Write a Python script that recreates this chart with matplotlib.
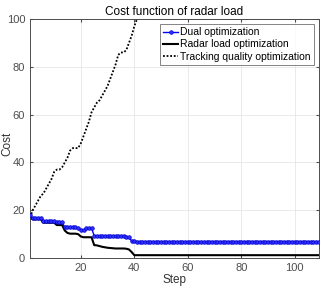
import numpy as np
import matplotlib.pyplot as plt

plt.rcParams['font.family'] = ['Liberation Sans', 'DejaVu Sans']

# Cost per step (steps 1..109)
tracking_head = [17, 20, 22, 24, 26, 27, 29, 31, 33, 36,
                 37, 37, 38, 40, 42, 45, 46, 46, 46, 48,
                 51, 54, 57, 61, 63, 65, 66, 68, 70, 72,
                 75, 78, 81, 85, 86, 86, 87, 90, 93, 97, 100]
dual_head = [18, 16.6, 16.6, 16.6, 16.6, 15.6, 15.6, 15.6, 15.6, 15.6,
             15.0, 15.0, 15.0, 12.8, 12.8, 12.8, 12.8, 12.8, 12.6, 11.7,
             11.7, 12.4, 12.5, 12.5, 9.3, 9.2, 9.2, 9.2, 9.2, 9.2,
             9.2, 9.2, 9.2, 9.2, 9.2, 9.2, 9.0, 8.6, 7.2, 7.0]
radar_head = [17, 16.2, 16.2, 16.2, 16.2, 14.8, 14.8, 14.8, 14.8, 14.8,
              13.8, 13.8, 13.8, 11.5, 10.5, 10.2, 10.2, 10.2, 10.0, 9.0,
              8.7, 8.7, 8.7, 8.7, 5.4, 5.3, 5.0, 4.7, 4.5, 4.3,
              4.2, 4.1, 4.0, 4.0, 4.0, 4.0, 3.9, 3.6, 2.5, 1.2]

n_steps = 109
steps = np.arange(1, n_steps + 1)
tracking = tracking_head + [100] * (n_steps - len(tracking_head))
dual = dual_head + [6.9] * (n_steps - len(dual_head))
radar = radar_head + [1.2] * (n_steps - len(radar_head))

fig = plt.figure(figsize=(3.23, 2.88), dpi=100)
ax = fig.add_axes([0.093, 0.104, 0.894, 0.830])

ax.plot(steps, dual, color='#0000ff', lw=1.0, marker='o', ms=2.6,
        mfc='#3030ff', mec='#0000cc', mew=0.5, label='Dual optimization', zorder=3)
ax.plot(steps, radar, color='black', lw=1.5, label='Radar load optimization', zorder=2)
ax.plot(steps, tracking, color='black', lw=1.3, ls=(0, (1, 1)),
        label='Tracking quality optimization', zorder=2)

ax.set_xlim(1, 109)
ax.set_ylim(0, 100)
ax.set_xticks([20, 40, 60, 80, 100])
ax.set_yticks([0, 20, 40, 60, 80, 100])
ax.grid(True, color='#e6e6e6', lw=0.6)
ax.set_axisbelow(True)
ax.tick_params(direction='in', labelsize=8, colors='#4d4d4d', length=2.5, top=True, right=True,
               labelcolor='#4d4d4d')
for s in ax.spines.values():
    s.set_color('#4d4d4d')
    s.set_linewidth(0.7)

ax.set_title('Cost function of radar load', fontsize=8.5, pad=3)
ax.set_xlabel('Step', fontsize=8.5, color='#333333', labelpad=1)
fig.text(0.004, 0.5, 'Cost', rotation=90, fontsize=8.5, color='#333333',
         ha='left', va='center')

leg = ax.legend(loc='upper right', fontsize=7.5, frameon=True, fancybox=False,
                edgecolor='#4d4d4d', handlelength=1.4, handletextpad=0.2,
                borderpad=0.3, labelspacing=0.2, borderaxespad=0.5, markerscale=1.0)
leg.get_frame().set_linewidth(0.6)

fig.savefig('out.png', dpi=100)
